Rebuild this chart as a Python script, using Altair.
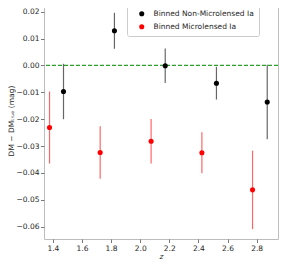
import altair as alt
import pandas as pd

# Data
z_non = [1.473, 1.823, 2.172, 2.524, 2.873]
dm_non = [-0.0097, 0.0129, -0.0001, -0.0066, -0.0136]
err_non = [0.0103, 0.0067, 0.0064, 0.0061, 0.0139]

z_mic = [1.377, 1.725, 2.075, 2.424, 2.772]
dm_mic = [-0.0231, -0.0324, -0.0282, -0.0325, -0.0463]
err_mic = [0.0134, 0.0098, 0.0083, 0.0076, 0.0146]

series_names = ["Binned Non-Microlensed Ia", "Binned Microlensed Ia"]
series_colors = ["#000000", "#ff0000"]
x_ticks = [1.4, 1.6, 1.8, 2.0, 2.2, 2.4, 2.6, 2.8]
y_ticks = [-0.06, -0.05, -0.04, -0.03, -0.02, -0.01, 0.0, 0.01, 0.02]

rows = []
for z, d, e in zip(z_non, dm_non, err_non):
    rows.append({"z": z, "dm": d, "lo": d - e, "hi": d + e, "series": series_names[0]})
for z, d, e in zip(z_mic, dm_mic, err_mic):
    rows.append({"z": z, "dm": d, "lo": d - e, "hi": d + e, "series": series_names[1]})
df = pd.DataFrame(rows)

FONT = "DejaVu Sans"
xscale = alt.Scale(domain=[1.339, 2.947], nice=False, zero=False)
yscale = alt.Scale(domain=[-0.06458, 0.02361], nice=False, zero=False)
cscale = alt.Scale(domain=series_names, range=series_colors)

xaxis = alt.Axis(
    values=x_ticks, format=".1f", titleFontStyle="italic",
    labelOverlap=False, labelBound=False, labelFlush=False,
)
yaxis = alt.Axis(
    values=y_ticks, format=".2f",
    labelOverlap=False, labelBound=False, labelFlush=False,
)
XT = "z"
YT = "DM − DMₜᵣᵤₑ (mag)"

zero_line = alt.Chart(pd.DataFrame({"y": [0.0]})).mark_rule(
    color="#2ca02c", strokeWidth=1.2, strokeDash=[4, 2]
).encode(y=alt.Y("y:Q", scale=yscale, axis=yaxis, title=YT))

bars = alt.Chart(df).mark_rule(strokeWidth=1.2, opacity=0.6).encode(
    x=alt.X("z:Q", scale=xscale, axis=xaxis, title=XT),
    y=alt.Y("lo:Q", scale=yscale, axis=yaxis, title=YT),
    y2="hi:Q",
    color=alt.Color("series:N", scale=cscale, sort=series_names, legend=None),
)

points = alt.Chart(df).mark_circle(size=26, opacity=1).encode(
    x=alt.X("z:Q", scale=xscale, axis=xaxis, title=XT),
    y=alt.Y("dm:Q", scale=yscale, axis=yaxis, title=YT),
    color=alt.Color(
        "series:N",
        scale=cscale,
        sort=series_names,
        legend=alt.Legend(
            title=None,
            orient="none",
            legendX=83,
            legendY=3,
            symbolType="circle",
            symbolSize=26,
            symbolOpacity=1,
            labelFontSize=7.5,
            labelFont=FONT,
            labelColor="#262626",
            rowPadding=4,
            padding=5,
            strokeColor="#cccccc",
            fillColor="#ffffff",
            cornerRadius=2,
            symbolOffset=6,
            labelOffset=8,
        ),
    ),
)

chart = (
    alt.layer(zero_line, bars, points)
    .resolve_legend(color="independent")
    .properties(
        width=234,
        height=237,
        autosize=alt.AutoSizeParams(type="none"),
        padding={"left": 36, "top": -6, "right": 13, "bottom": 22},
    )
    .configure_view(stroke="#bdbdbd", strokeWidth=1)
    .configure_axis(
        domain=False,
        grid=False,
        ticks=True,
        tickSize=3.5,
        tickColor="#555555",
        tickWidth=0.8,
        labelFont=FONT,
        labelFontSize=7.5,
        labelColor="#262626",
        labelPadding=1.5,
        titleFont=FONT,
        titleFontSize=7.5,
        titleFontWeight="normal",
        titleColor="#262626",
        titlePadding=1,
    )
)

chart.save("out.html", embed_options={"renderer": "svg", "actions": False})
